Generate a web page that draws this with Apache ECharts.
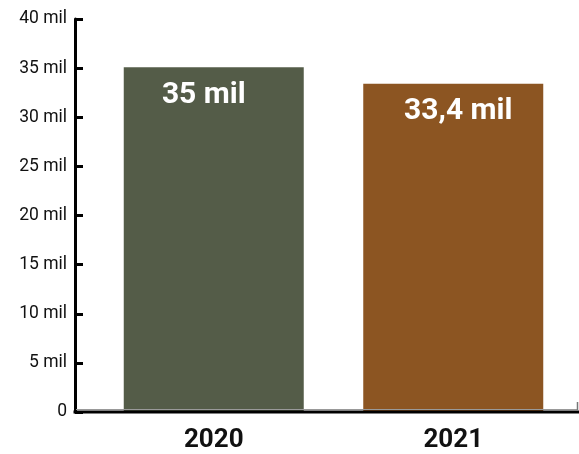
<!DOCTYPE html>
<html>
<head>
<meta charset="utf-8">
<script src="https://cdn.jsdelivr.net/npm/echarts@6/dist/echarts.min.js"></script>
<style>html,body{margin:0;padding:0;background:#fff}#c{width:579px;height:454px}</style>
</head>
<body>
<div id="c"></div>
<script>
const categories = ['2020', '2021'];
const values = [35.1, 33.4];            // in millions
const valueLabels = ['35 mil', '33,4 mil'];
const yTickLabels = ['0', '5 mil', '10 mil', '15 mil', '20 mil', '25 mil', '30 mil', '35 mil', '40 mil'];
const barColors = ['#545c48', '#8c5522'];

const labelShift = [-10, 5];
const chart = echarts.init(document.getElementById('c'));
chart.setOption({
  animation: false,
  grid: { left: 94, right: 6, top: 19, bottom: 42 },
  xAxis: {
    type: 'category',
    data: categories,
    axisLine: { show: false },
    axisTick: { show: false },
    axisLabel: { color: '#111', fontFamily: 'Roboto', fontWeight: 'bold', fontSize: 26, margin: 15 }
  },
  yAxis: {
    type: 'value', min: 0, max: 40, interval: 5,
    offset: 19,
    axisLine: { show: true, lineStyle: { color: '#000', width: 3 } },
    axisTick: { show: true, inside: true, length: 8, lineStyle: { color: '#000', width: 3 } },
    splitLine: { show: false },
    axisLabel: {
      color: '#111', fontFamily: 'Roboto', fontSize: 17.5, margin: 8,
      formatter: v => yTickLabels[Math.round(v / 5)]
    }
  },
  series: [{
    type: 'bar',
    barWidth: 180,
    data: values.map((v, i) => ({
      value: v,
      itemStyle: { color: barColors[i] },
      label: {
        show: true, position: 'insideTop', distance: 13, offset: [labelShift[i], 0],
        formatter: () => valueLabels[i],
        color: '#fff', fontFamily: 'Roboto', fontWeight: 'bold', fontSize: 30
      }
    }))
  }],
  graphic: [
    { type: 'line', shape: { x1: 76, y1: 409.5, x2: 578, y2: 409.5 }, style: { stroke: '#999', lineWidth: 1 }, z: 5 },
    { type: 'line', shape: { x1: 577.5, y1: 402, x2: 577.5, y2: 410 }, style: { stroke: '#777', lineWidth: 1.5 }, z: 5 },
    { type: 'line', shape: { x1: 73.5, y1: 412, x2: 579, y2: 412 }, style: { stroke: '#000', lineWidth: 3 }, z: 10 }
  ]
});
</script>
</body>
</html>
